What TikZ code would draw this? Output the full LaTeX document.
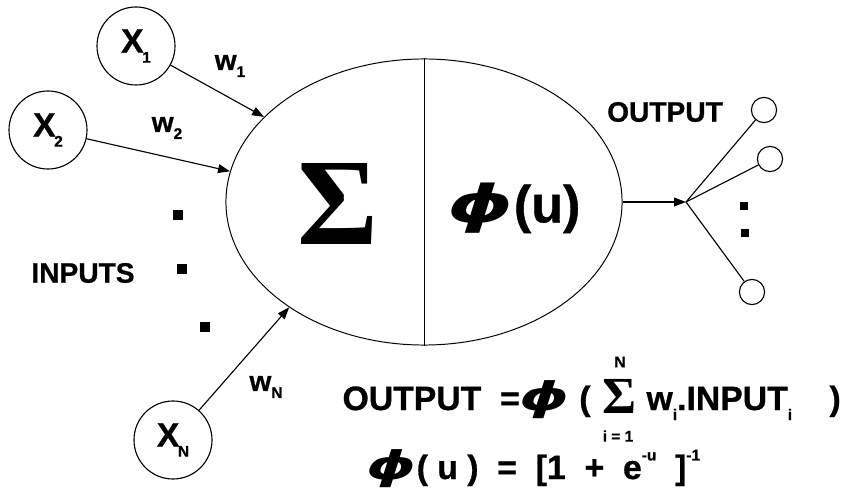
\documentclass[tikz,border=0pt]{standalone}
\usepackage{fontspec}
\setmainfont{Liberation Sans}[BoldFeatures={FakeBold=0.8}]
\newfontfamily\sigmafont{Liberation Serif}
\newfontfamily\phifont{DejaVu Sans}
\usetikzlibrary{arrows.meta, positioning, shapes.geometric}

\newcommand{\bphi}{\scalebox{1.6}[1]{\phifont\itshape ϕ}}
\newcommand{\lo}[2]{\raisebox{-#2}{\fontsize{11}{11}\selectfont #1}}
\newcommand{\hi}[1]{\raisebox{0.55em}{\fontsize{11}{11}\selectfont #1}}

\begin{document}
\begin{tikzpicture}[x=0.025cm, y=-0.025cm, line width=0.8pt,
      unit/.style={draw, circle, minimum size=1.95cm, inner sep=0pt, font=\fontsize{24}{24}\selectfont\bfseries},
      outunit/.style={draw, circle, minimum size=0.63cm, inner sep=0pt},
      lbl/.style={inner sep=0pt, font=\fontsize{20}{20}\selectfont\bfseries},
      eq/.style={inner sep=0pt, font=\fontsize{24}{24}\selectfont\bfseries},
      limit/.style={inner sep=0pt, font=\fontsize{11}{11}\selectfont\bfseries},
      dot/.style={fill, minimum size=0.23cm, inner sep=0pt},
      arrow/.style={-{Triangle[length=3mm, width=2.2mm]}}
  ]
    \useasboundingbox (0,0) rectangle (848,491);

    % neuron body
    \node[draw, ellipse, minimum width=9.9cm, minimum height=7.15cm, inner sep=0pt, line width=0.7pt] (cell) at (424,202) {};
    \draw[line width=0.7pt] (cell.north) -- (cell.south);
    \node[inner sep=0pt, font=\sigmafont\bfseries\fontsize{88}{88}\selectfont] (sig) at (338,204) {Σ};
    \node[inner sep=0pt, font=\fontsize{37}{37}\selectfont\bfseries] (act) at (514,208) {\bphi(u)};

    % inputs
    \node[unit] (x1) at (136,46) {X\kern-1pt\lo{1}{0.3em}};
    \node[unit] (x2) at (48,130) {X\kern-1pt\lo{2}{0.3em}};
    \node[unit] (xn) at (173,440) {X\kern-1pt\lo{N}{0.3em}};

    \draw[arrow] (x1) -- (cell.152);
    \draw[arrow] (x2) -- (cell.171);
    \draw[arrow] (xn) -- (cell.218);

    \node[lbl] (w1) at (230,66) {w\lo{1}{0.25em}};
    \node[lbl] (w2) at (167,128) {w\lo{2}{0.25em}};
    \node[lbl] (wn) at (266,387) {w\lo{N}{0.25em}};

    \node[dot] (d1) at (178,215) {};
    \node[dot] (d2) at (182,269) {};
    \node[dot] (d3) at (205,327) {};
    \node[lbl] (inputs) at (83,273) {INPUTS};

    % outputs
    \coordinate (hub) at (686,202);
    \draw[arrow] (cell.east) -- (hub);
    \node[outunit] (o1) at (764,110) {};
    \node[outunit] (o2) at (770,159) {};
    \node[outunit] (o3) at (752,292) {};
    \draw (hub) -- (o1);
    \draw (hub) -- (o2);
    \draw (hub) -- (o3);
    \node[dot, minimum size=0.2cm] (e1) at (744,206) {};
    \node[dot, minimum size=0.2cm] (e2) at (745,233) {};
    \node[lbl] (outlbl) at (665,112) {OUTPUT};

    % formulas
    \node[eq, anchor=base west] (eq1) at (342,410) {OUTPUT\ \ ={\fontsize{28}{28}\selectfont\bphi}\ (};
    \node[inner sep=0pt, anchor=base west, font=\sigmafont\bfseries\fontsize{37}{37}\selectfont] (sum) at (602,413) {Σ};
    \node[limit] (top) at (620,362) {N};
    \node[limit] (bot) at (618,436) {i = 1};
    \node[eq, anchor=base west] (eq1r) at (646,410) {w\lo{i}{0.3em}.INPUT\lo{i}{0.3em}\ \ \ \ )};
    \node[eq, anchor=base west] (eq2) at (366,479) {{\fontsize{28}{28}\selectfont\bphi}( u )\ \ =\ \ [1\ \ +\ \ e\hi{-u}\ \ ]\hi{-1}};
\end{tikzpicture}
\end{document}
